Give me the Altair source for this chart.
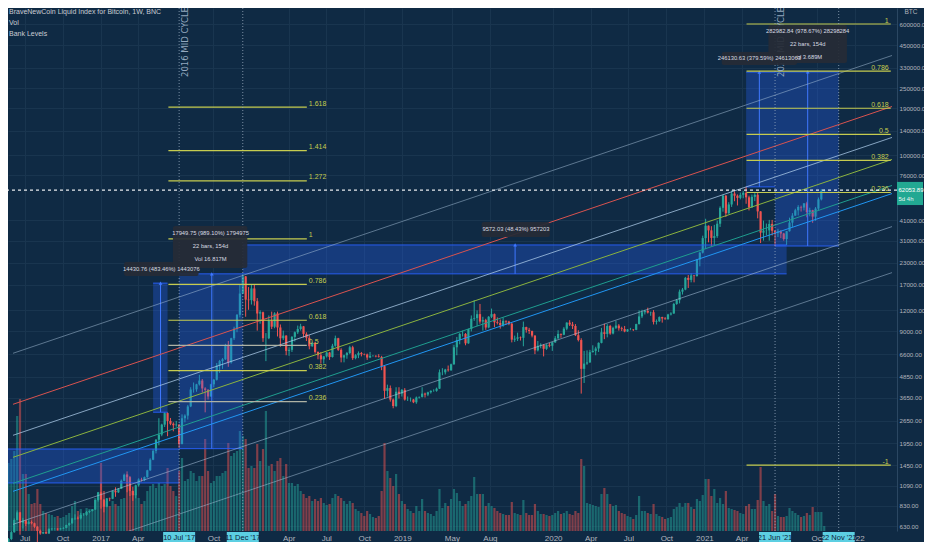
import altair as alt
import pandas as pd

# ---------------------------------------------------------------- data
FIRST_WEEK = "2016-05-16"   # first weekly candle (Monday)
FIRST_OPEN = 455

close_2016 = [443, 528, 580, 685, 760, 660, 680, 650, 665, 655, 625, 590, 570, 580, 570, 605, 608, 608, 603, 610, 615, 640, 655, 700, 705, 700, 735, 735, 765, 775, 790, 900, 1000]
high_2016 = [462, 535, 590, 700, 780, 765, 705, 685, 680, 680, 660, 630, 600, 585, 590, 612, 612, 612, 612, 615, 620, 642, 660, 705, 740, 718, 755, 750, 775, 780, 795, 905, 1005]
low_2016 = [435, 438, 520, 575, 680, 560, 610, 630, 645, 645, 615, 480, 560, 565, 565, 565, 598, 602, 595, 600, 605, 612, 632, 650, 685, 690, 690, 725, 725, 752, 770, 785, 880]
vol_2016 = [70, 68, 72, 80, 115, 132, 57, 57, 37, 27, 28, 42, 27, 20, 18, 17, 16, 14, 15, 13, 14, 16, 18, 25, 30, 20, 22, 18, 23, 22, 22, 33, 37]

close_2017 = [905, 820, 920, 915, 1020, 1000, 1050, 1170, 1270, 1230, 1020, 960, 1100, 1190, 1180, 1230, 1350, 1560, 1760, 2050, 2200, 2520, 2950, 2650, 2550, 2500, 2520, 1930, 2750, 2850, 3230, 4070, 4080, 4370, 4600, 4130, 4050, 3700, 4370, 4650, 5650, 6000, 6150, 7400, 5900, 8200, 9350, 11300, 15100, 19100, 13900, 13800]
high_2017 = [1150, 910, 925, 930, 1025, 1070, 1060, 1190, 1290, 1330, 1250, 1080, 1110, 1210, 1220, 1240, 1360, 1590, 1800, 2070, 2750, 2550, 2980, 2980, 2760, 2600, 2650, 2540, 2900, 2900, 3300, 4200, 4480, 4400, 4980, 4700, 4200, 4100, 4400, 4700, 5850, 6100, 6250, 7600, 7900, 8250, 9600, 11400, 17200, 19800, 19200, 16500]
low_2017 = [800, 760, 815, 885, 910, 940, 990, 1045, 1165, 1000, 950, 890, 920, 1080, 1160, 1165, 1220, 1340, 1550, 1700, 1900, 2150, 2440, 2150, 2500, 2300, 2450, 1830, 1930, 2600, 2700, 3200, 3900, 3950, 4300, 3900, 2980, 3550, 3700, 4200, 4600, 5100, 5400, 6100, 5550, 5800, 8000, 8900, 10900, 15000, 11000, 12100]
vol_2017 = [68, 40, 30, 25, 30, 27, 25, 32, 33, 57, 50, 40, 37, 33, 27, 30, 40, 45, 47, 43, 48, 45, 47, 63, 45, 40, 35, 60, 73, 50, 52, 60, 58, 50, 55, 55, 92, 60, 48, 50, 55, 55, 58, 60, 88, 75, 78, 80, 100, 95, 92, 63]

close_2018 = [16200, 13600, 11500, 11700, 8200, 8200, 10400, 9600, 11500, 9500, 8200, 8500, 6900, 7000, 8350, 8900, 9300, 9650, 8700, 8250, 7350, 7700, 6800, 6500, 6150, 6400, 6750, 6350, 7400, 8200, 7000, 6300, 6500, 6700, 7250, 6250, 6500, 6700, 6600, 6570, 6300, 6450, 6450, 6400, 6350, 5600, 4000, 4150, 3550, 3250, 3950, 3850]
high_2018 = [17200, 17000, 14200, 12000, 11800, 8800, 11200, 11800, 11700, 11800, 9900, 9100, 8550, 7250, 8450, 9000, 9750, 9990, 9700, 8900, 8550, 7750, 7800, 6850, 6800, 6450, 6800, 6800, 7600, 8500, 8250, 7150, 6550, 6800, 7400, 7400, 6600, 6850, 6800, 6650, 6650, 6800, 6520, 6500, 6600, 6450, 5650, 4350, 4300, 3600, 4200, 4200]
low_2018 = [13000, 12800, 9100, 10000, 7800, 6000, 8100, 9300, 9400, 8400, 7300, 8000, 6500, 6450, 6800, 7850, 8700, 9100, 8300, 7900, 7050, 7300, 6650, 6150, 5800, 5800, 6300, 6100, 6300, 7300, 6900, 5900, 5900, 6200, 6600, 6100, 6150, 6250, 6400, 6500, 6100, 6250, 6380, 6320, 6300, 5300, 3600, 3700, 3450, 3150, 3200, 3600]
vol_2018 = [65, 63, 87, 70, 82, 120, 65, 67, 60, 70, 73, 55, 67, 48, 48, 45, 47, 40, 37, 33, 35, 30, 32, 30, 33, 28, 26, 27, 33, 37, 35, 33, 30, 27, 30, 28, 22, 20, 18, 15, 20, 17, 14, 13, 15, 40, 88, 60, 53, 45, 57, 37]

close_2019 = [4050, 3550, 3550, 3550, 3420, 3650, 3680, 3850, 3800, 3920, 4000, 4000, 4120, 5150, 5150, 5350, 5300, 5750, 7250, 8000, 8700, 8700, 7650, 9300, 10700, 10800, 11400, 10300, 10500, 9500, 11000, 11400, 10200, 10100, 9800, 10400, 10300, 10000, 8050, 8150, 8300, 8250, 9550, 9200, 9050, 8500, 6950, 7400, 7500, 7100, 7500, 7400]
high_2019 = [4100, 4150, 3700, 3650, 3580, 3700, 3700, 4200, 3900, 3950, 4020, 4080, 4180, 5350, 5450, 5400, 5650, 5800, 7500, 8350, 8800, 9100, 8800, 9350, 11200, 13800, 12000, 13100, 11000, 10700, 11100, 12300, 11500, 10900, 10600, 10900, 10450, 10400, 10100, 8500, 8850, 8400, 10300, 9600, 9450, 9100, 8550, 7900, 7650, 7550, 7550, 7700]
low_2019 = [3700, 3500, 3480, 3450, 3380, 3350, 3600, 3650, 3650, 3720, 3850, 3950, 3950, 4100, 4950, 5000, 5200, 5250, 5700, 6500, 7550, 8400, 7450, 7600, 9000, 10400, 9700, 10000, 9100, 9200, 9400, 10800, 9550, 9900, 9350, 9600, 9900, 9800, 7750, 7800, 7900, 7950, 7350, 8850, 8700, 8300, 6600, 6850, 7150, 6400, 7000, 7250]
vol_2019 = [30, 27, 22, 20, 18, 25, 20, 32, 20, 18, 17, 15, 20, 42, 23, 28, 25, 32, 42, 38, 30, 25, 27, 30, 35, 54, 37, 37, 37, 25, 28, 25, 23, 20, 18, 17, 16, 16, 29, 18, 17, 16, 31, 18, 16, 16, 27, 20, 17, 17, 16, 15]

close_2020 = [7750, 8200, 8700, 8600, 9350, 10150, 9900, 9700, 8550, 8000, 5400, 5800, 5900, 6780, 6900, 7130, 7700, 8900, 8700, 9700, 8750, 9450, 9750, 9400, 9300, 9000, 9250, 9250, 9200, 9950, 11050, 11700, 11900, 11650, 11700, 10250, 10350, 10950, 10750, 10650, 11350, 11500, 13100, 13800, 15500, 15950, 18700, 18200, 19350, 19200, 24050, 26400, 32200]
high_2020 = [7800, 8450, 9150, 8750, 9550, 10200, 10500, 10250, 9950, 9150, 8200, 6900, 6950, 7000, 7450, 7300, 7750, 9450, 10000, 9950, 9850, 9600, 10400, 9950, 9600, 9700, 9300, 9450, 9300, 10000, 12000, 12100, 12100, 12450, 11800, 12050, 10600, 11050, 11000, 10950, 11450, 11700, 13300, 14000, 15950, 16300, 18950, 19450, 19900, 19400, 24250, 26800, 33300]
low_2020 = [6900, 7700, 8100, 8250, 8550, 9150, 9700, 9300, 8450, 7850, 3850, 4450, 5700, 5850, 6750, 6500, 6800, 7650, 8100, 8300, 8600, 8650, 9300, 9100, 9050, 8900, 8950, 9150, 9050, 9150, 9900, 10800, 11350, 11500, 11150, 9900, 9900, 10250, 10150, 10550, 10550, 11200, 11450, 12950, 13200, 14900, 15800, 16300, 17600, 17600, 19000, 21900, 26100]
vol_2020 = [16, 18, 20, 17, 18, 20, 17, 16, 20, 18, 72, 65, 28, 27, 26, 25, 24, 37, 43, 37, 27, 25, 26, 20, 18, 17, 15, 14, 12, 16, 35, 20, 20, 18, 17, 27, 17, 15, 14, 12, 13, 14, 22, 24, 28, 24, 28, 28, 24, 22, 32, 30, 36]

close_2021 = [38150, 35800, 32300, 33100, 39200, 48700, 57500, 45200, 51000, 59200, 57500, 55800, 58200, 59800, 56200, 49000, 56600, 58200, 46400, 34700, 35700, 35800, 39100, 35600, 34700, 35300, 34300, 31800, 35400, 39800, 43800, 47100, 49300, 48900, 51800, 46000, 47200, 43200, 48200, 54700, 61500, 62053.89]
high_2021 = [41950, 38300, 37900, 38600, 40900, 49700, 58300, 58000, 52600, 61700, 61000, 58500, 60000, 61300, 64800, 57500, 58400, 59500, 59600, 46600, 40900, 39300, 41300, 41300, 35700, 36600, 35900, 34600, 35500, 42600, 45300, 48100, 50500, 50200, 51900, 52900, 48800, 47400, 49200, 56100, 62900, 62700]
low_2021 = [27700, 30400, 28800, 29300, 32300, 37500, 46200, 43000, 44900, 49300, 53300, 50300, 54700, 55500, 51500, 47000, 48800, 53400, 42200, 30100, 31100, 33400, 31100, 33400, 28800, 32700, 32200, 31100, 29300, 35200, 37500, 43700, 43900, 46300, 47000, 42800, 43400, 39700, 40800, 47200, 53900, 59900]
vol_2021 = [52, 52, 35, 42, 28, 33, 27, 40, 23, 22, 21, 20, 18, 17, 25, 27, 22, 22, 31, 64, 30, 25, 27, 20, 37, 15, 14, 14, 15, 23, 20, 18, 16, 14, 15, 18, 16, 24, 19, 19, 19, 5]

LAST_PRICE = 62053.89

# parallel channel lines (price at left / right end of the view)
ch_names = ["g1", "red", "g2", "green", "teal", "blue", "g3", "g4"]
ch_start_price = [6677, 3327, 2178, 1612, 1130, 1013, 645, 344]
ch_end_price = [390300, 194400, 127400, 94300, 66100, 59200, 37700, 20100]
CH_START, CH_END = "2016-06-03", "2022-03-31"

# fibonacci retracements (log)
fibL_zero, fibL_one = 1733, 31900
fibL_start, fibL_end = "2017-06-14", "2018-05-15"
fibL_levels = [0.236, 0.382, 0.5, 0.618, 0.786, 1, 1.272, 1.414, 1.618]
fibR_zero, fibR_one = 29500, 600000
fibR_start, fibR_end = "2021-04-13", "2022-03-28"
fibR_levels = [-1, 0.236, 0.382, 0.5, 0.618, 0.786, 1]

# measurement (price range) boxes
mb_start = ["2017-05-08", "2017-07-10", "2016-05-16", "2017-12-11", "2021-04-12", "2021-06-21"]
mb_end = ["2017-06-12", "2017-12-11", "2017-07-10", "2021-07-19", "2021-06-21", "2021-11-22"]
mb_low = [2985, 1815, 1136, 19765, 64840, 28915]
mb_high = [17415, 19765, 1806, 29337, 310970, 311898]
arrow_date = ["2017-05-26", "2017-09-27", "2019-10-01", "2021-05-14", "2021-09-08"]
arrow_low = [2985, 1815, 19765, 64840, 28915]
arrow_high = [17415, 19765, 29337, 310970, 311898]

# measurement label boxes
lb_x1 = ["2017-02-27", "2017-06-25", "2019-07-12", "2021-06-05", "2021-02-12"]
lb_x2 = ["2017-08-26", "2017-12-22", "2019-12-24", "2021-12-12", "2021-08-13"]
lb_top = [23250, 37990, 40140, 591800, 409000]
lb_bottom = [19190, 21420, 32700, 352000, 342700]
lb_group = ["a", "a", "a", "a", "b"]
lt_date = ["2017-05-28", "2017-09-24", "2017-09-24", "2017-09-24", "2019-10-03",
           "2021-09-08", "2021-09-08", "2021-09-08", "2021-05-14"]
lt_price = [21120, 34540, 28910, 24220, 36250, 545000, 456500, 382000, 379700]
lt_text = ["14430.76 (483.46%) 1443076", "17949.75 (989.10%) 1794975", "22 bars, 154d", "Vol 16.817M",
           "9572.03 (48.43%) 957203", "282982.84 (978.67%) 28298284", "22 bars, 154d", "Vol 3.689M",
           "246130.63 (379.59%) 24613063"]
lt_group = ["a", "a", "a", "a", "a", "a", "a", "a", "b"]

# vertical markers
mark_dates = ["2017-07-10", "2017-12-11", "2021-06-21", "2021-11-22"]
mark_labels = ["10 Jul '17", "11 Dec '17", "21 Jun '21", "22 Nov '21"]
cycle_dates = ["2017-07-10", "2021-06-21"]
cycle_texts = ["2016 MID CYCLE", "2020 MID CYCLE"]

y_ticks = [630, 830, 1090, 1450, 1950, 2650, 3650, 4850, 6600, 9000, 12000, 17000, 23000,
           31000, 41000, 76000, 100000, 140000, 190000, 250000, 330000, 450000, 600000]
x_ticks = [(2016, 7), (2016, 10), (2017, 1), (2017, 4), (2017, 10), (2018, 4), (2018, 7), (2018, 10),
           (2019, 1), (2019, 5), (2019, 8), (2020, 1), (2020, 4), (2020, 7), (2020, 10), (2021, 1),
           (2021, 4), (2021, 10), (2022, 1)]

# ---------------------------------------------------------------- styles
FONT = "Liberation Sans Narrow, Liberation Sans, Arial, sans-serif"
BG = "#0f2a44"
GRID = "#19354f"
TXT = "#b2b5be"
UP, DOWN = "#26a69a", "#ef5350"
FIB_Y = "#c6cc4f"
FIB_G = "#aeb2a4"
BLUE = "#2962ff"
ch_colors = ["rgba(170,195,220,0.5)", "#d9534f", "rgba(175,205,235,0.75)", "#8bb33f",
             "#1f9e8f", "#2196f3", "rgba(170,195,220,0.55)", "rgba(170,195,220,0.5)"]

# ---------------------------------------------------------------- frames
closes = close_2016 + close_2017 + close_2018 + close_2019 + close_2020 + close_2021
highs = high_2016 + high_2017 + high_2018 + high_2019 + high_2020 + high_2021
lows = low_2016 + low_2017 + low_2018 + low_2019 + low_2020 + low_2021
vols = vol_2016 + vol_2017 + vol_2018 + vol_2019 + vol_2020 + vol_2021
opens = [FIRST_OPEN] + closes[:-1]
weeks = pd.date_range(FIRST_WEEK, periods=len(closes), freq="7D")
candles = pd.DataFrame({
    "date": weeks, "open": opens, "close": closes,
    "high": [max(h, o, c) for h, o, c in zip(highs, opens, closes)],
    "low": [min(l, o, c) for l, o, c in zip(lows, opens, closes)],
    "vol": vols,
    "col": [UP if c >= o else DOWN for o, c in zip(opens, closes)],
})

ch_rows = []
for n, p0, p1, c in zip(ch_names, ch_start_price, ch_end_price, ch_colors):
    ch_rows.append({"name": n, "date": pd.Timestamp(CH_START), "price": p0, "col": c})
    ch_rows.append({"name": n, "date": pd.Timestamp(CH_END), "price": p1, "col": c})
channels = pd.DataFrame(ch_rows)

fib_rows = []
for L in fibL_levels:
    fib_rows.append({"start": pd.Timestamp(fibL_start), "end": pd.Timestamp(fibL_end),
                     "price": fibL_zero * (fibL_one / fibL_zero) ** L, "label": f"{L:g}",
                     "col": FIB_G if L in (0.5, 0.236) else FIB_Y, "side": "L"})
for L in fibR_levels:
    fib_rows.append({"start": pd.Timestamp(fibR_start), "end": pd.Timestamp(fibR_end),
                     "price": fibR_zero * (fibR_one / fibR_zero) ** L, "label": f"{L:g}",
                     "col": FIB_Y, "side": "R"})
fibs = pd.DataFrame(fib_rows)

boxes = pd.DataFrame({"start": pd.to_datetime(mb_start), "end": pd.to_datetime(mb_end),
                      "low": mb_low, "high": mb_high})
edges = pd.DataFrame({"start": pd.to_datetime(mb_start + mb_start), "end": pd.to_datetime(mb_end + mb_end),
                      "price": mb_low + mb_high})
arrows = pd.DataFrame({"date": pd.to_datetime(arrow_date), "low": arrow_low, "high": arrow_high})
lboxes = pd.DataFrame({"x1": pd.to_datetime(lb_x1), "x2": pd.to_datetime(lb_x2),
                       "top": lb_top, "bottom": lb_bottom, "g": lb_group})
ltexts = pd.DataFrame({"date": pd.to_datetime(lt_date), "price": lt_price, "text": lt_text, "g": lt_group})
markers = pd.DataFrame({"date": pd.to_datetime(mark_dates), "label": mark_labels})
cycles = pd.DataFrame({"date": pd.to_datetime(cycle_dates), "text": cycle_texts})
last = pd.DataFrame({"price": [LAST_PRICE]})
tag = pd.DataFrame({"top": [69400], "bottom": [50600], "p1": [LAST_PRICE], "p2": [54900],
                    "t1": [f"{LAST_PRICE:.2f}"], "t2": ["5d 4h"]})

# ---------------------------------------------------------------- scales / axes
X_SCALE = alt.Scale(domain=[alt.DateTime(year=2016, month=6, date=3),
                            alt.DateTime(year=2022, month=3, date=31)])
Y_SCALE = alt.Scale(type="log", domain=[589.2, 746800], nice=False)
X_AXIS = alt.Axis(title=None, values=[alt.DateTime(year=y, month=m, date=1) for y, m in x_ticks],
                  labelExpr="month(datum.value) == 0 ? timeFormat(datum.value, '%Y') : timeFormat(datum.value, '%b')",
                  labelColor=TXT, labelFontSize=8, labelFont=FONT, ticks=False, domain=False,
                  grid=True, gridColor=GRID, labelPadding=3, labelOverlap=False, labelFlush=False, zindex=0)
Y_AXIS = alt.Axis(title=None, orient="right", values=y_ticks, format=".2f", labelColor=TXT,
                  labelFontSize=6.2, labelFont=FONT, ticks=False, domain=True, domainColor="#2b4762",
                  grid=True, gridColor=GRID, labelPadding=2, labelOverlap=False, labelFlush=False, zindex=0)


def X(f="date"):
    return alt.X(f"{f}:T", scale=X_SCALE, axis=X_AXIS)


def Y(f):
    return alt.Y(f"{f}:Q", scale=Y_SCALE, axis=Y_AXIS)


COLOR = alt.Color("col:N", scale=None)

# ---------------------------------------------------------------- layers
volume = alt.Chart(candles).mark_bar(size=2.2, opacity=0.5).encode(
    x=X(), y=alt.Y("vol:Q", scale=alt.Scale(domain=[0, 523]), axis=None), color=COLOR)

wicks = alt.Chart(candles).mark_rule(strokeWidth=1).encode(x=X(), y=Y("low"), y2="high", color=COLOR)
bodies = alt.Chart(candles).mark_bar(size=2.2).encode(x=X(), y=Y("open"), y2="close", color=COLOR)

box_fill = alt.Chart(boxes).mark_rect(clip=True, color=BLUE, opacity=0.3).encode(
    x=X("start"), x2="end", y=Y("low"), y2="high")
box_edge = alt.Chart(edges).mark_rule(clip=True, color=BLUE, strokeWidth=1, opacity=0.9).encode(
    x=X("start"), x2="end", y=Y("price"))
arrow_line = alt.Chart(arrows).mark_rule(color="#3f78ff", strokeWidth=1).encode(
    x=X(), y=Y("low"), y2="high")
arrow_head = alt.Chart(arrows).mark_point(shape="triangle-up", filled=True, size=14, color="#3f78ff", opacity=1).encode(
    x=X(), y=Y("high"))

chan = alt.Chart(channels).mark_line(strokeWidth=1, clip=True).encode(
    x=X(), y=Y("price"), detail="name:N", color=COLOR)

fib_lines = alt.Chart(fibs).mark_rule(strokeWidth=1.2).encode(
    x=X("start"), x2="end", y=Y("price"), color=COLOR)
fib_lab_L = alt.Chart(fibs).transform_filter("datum.side == 'L'").mark_text(
    align="left", baseline="alphabetic", dx=2, dy=-1.5, fontSize=7, font=FONT, color=FIB_Y).encode(
    x=X("end"), y=Y("price"), text="label:N")
fib_lab_R = alt.Chart(fibs).transform_filter("datum.side == 'R'").mark_text(
    align="right", baseline="alphabetic", dx=-2, dy=-1.5, fontSize=7, font=FONT, color=FIB_Y).encode(
    x=X("end"), y=Y("price"), text="label:N")

vlines = alt.Chart(markers).mark_rule(strokeDash=[1, 2], color="#9fb0c4", opacity=0.75, strokeWidth=1).encode(x=X())
price_line = alt.Chart(last).mark_rule(strokeDash=[3, 3], color="#ffffff", strokeWidth=1.2, opacity=0.9).encode(
    y=Y("price"))

cycle_txt = alt.Chart(cycles).mark_text(angle=270, align="center", baseline="top", dy=2, fontSize=8.5,
                                        font="DejaVu Sans", color="#93a8bf").encode(
    x=X(), y=alt.value(34), text="text:N")


def label_layers(g):
    b = alt.Chart(lboxes).transform_filter(f"datum.g == '{g}'").mark_rect(
        color="#262b36", opacity=0.93, cornerRadius=2).encode(x=X("x1"), x2="x2", y=Y("top"), y2="bottom")
    t = alt.Chart(ltexts).transform_filter(f"datum.g == '{g}'").mark_text(
        fontSize=5.8, font=FONT, color="#d8dbe2", baseline="middle").encode(x=X(), y=Y("price"), text="text:N")
    return [b, t]


tag_box = alt.Chart(tag).mark_rect(color="#22a892").encode(
    x=alt.value(889), x2=alt.value(915), y=Y("top"), y2="bottom")
tag_t1 = alt.Chart(tag).mark_text(align="left", baseline="middle", fontSize=6, font=FONT, color="#ffffff").encode(
    x=alt.value(890.5), y=Y("p1"), text="t1:N")
tag_t2 = alt.Chart(tag).mark_text(align="left", baseline="middle", fontSize=6, font=FONT, color="#e8f5f2").encode(
    x=alt.value(890.5), y=Y("p2"), text="t2:N")

price = alt.layer(wicks, bodies, box_fill, box_edge, arrow_line, arrow_head, chan, fib_lines,
                  fib_lab_L, fib_lab_R, vlines, price_line, cycle_txt,
                  *label_layers("a"), *label_layers("b"), tag_box, tag_t1, tag_t2)

mk_box = alt.Chart(markers).mark_rect(xOffset=-16, x2Offset=16, color="#5ccfe2").encode(
    x=X(), x2="date", y=alt.value(524), y2=alt.value(540))
mk_txt = alt.Chart(markers).mark_text(fontSize=7.5, font=FONT, color="#0c2238", baseline="middle").encode(
    x=X(), y=alt.value(530), text="label:N")


def header(txt, y):
    return alt.Chart(pd.DataFrame({"t": [txt]})).mark_text(
        align="left", baseline="middle", fontSize=7, font=FONT, color="#c9ccd3").encode(
        x=alt.value(1), y=alt.value(y), text="t:N")


h1 = header("BraveNewCoin Liquid Index for Bitcoin, 1W, BNC", 4)
h2 = header("Vol", 15)
h3 = header("Bank Levels", 26)
btc = alt.Chart(pd.DataFrame({"t": ["BTC"]})).mark_text(
    align="center", baseline="middle", fontSize=6.5, font=FONT, color=TXT).encode(
    x=alt.value(903), y=alt.value(4), text="t:N")

chart = alt.layer(volume, price, mk_box, mk_txt, h1, h2, h3, btc).resolve_scale(y="independent").properties(
    width=889, height=523,
    autosize=alt.AutoSizeParams(type="none"),
    padding={"left": 0, "top": 0, "right": 27, "bottom": 11},
    background=BG,
).configure_view(stroke=None)

chart.save("out.html", embed_options={"renderer": "svg", "actions": False})
